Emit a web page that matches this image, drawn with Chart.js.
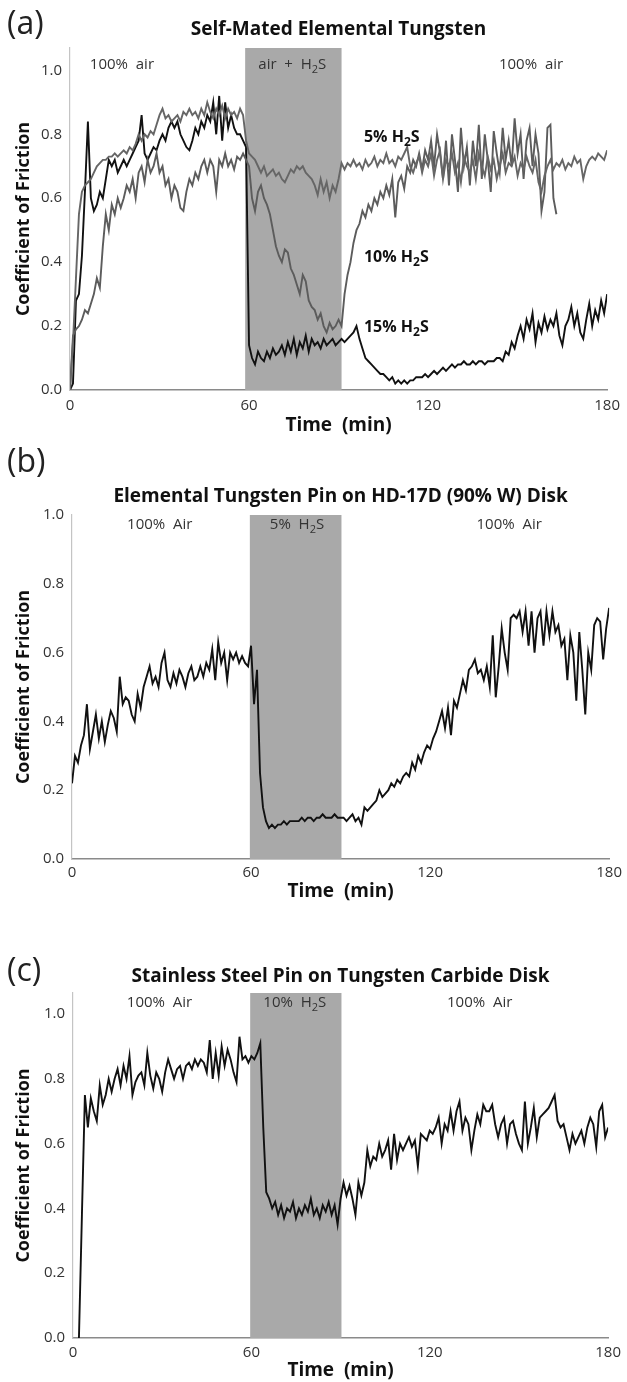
<!DOCTYPE html>
<html><head><meta charset="utf-8">
<script src="https://cdn.jsdelivr.net/npm/chart.js@4.4.0/dist/chart.umd.min.js"></script>
<style>
html,body{margin:0;padding:0;background:#fff;}
body{width:627px;height:1382px;position:relative;overflow:hidden;}
.wrap{position:absolute;left:0;width:627px;}
</style></head><body>
<div class="wrap" style="top:0;height:440px"><canvas id="ca"></canvas></div>
<div class="wrap" style="top:445px;height:460px"><canvas id="cb"></canvas></div>
<div class="wrap" style="top:955px;height:427px"><canvas id="cc"></canvas></div>
<script>
// ---------- data ----------
const xTicks = [0, 60, 120, 180];
const yTicks = [0.0, 0.2, 0.4, 0.6, 0.8, 1.0];

// Panel (a): Self-Mated Elemental Tungsten, 1-min samples
const aTime = Array.from({length:181}, (_, i) => i);
const aTime10 = Array.from({length:164}, (_, i) => i);
const a15 = [0,0.02,0.28,0.3,0.42,0.62,0.84,0.6,0.56,0.58,0.62,0.6,0.66,0.72,0.7,0.72,0.68,0.7,0.72,0.7,
0.72,0.74,0.76,0.78,0.86,0.74,0.72,0.74,0.76,0.75,0.78,0.8,0.78,0.82,0.84,0.82,0.84,0.8,0.78,0.76,
0.75,0.78,0.82,0.8,0.84,0.82,0.86,0.84,0.9,0.8,0.92,0.78,0.9,0.82,0.86,0.82,0.8,0.8,0.78,0.76,
0.14,0.1,0.08,0.12,0.1,0.09,0.12,0.1,0.13,0.11,0.12,0.14,0.11,0.15,0.12,0.16,0.11,0.15,0.13,0.17,
0.12,0.16,0.14,0.15,0.13,0.16,0.14,0.15,0.16,0.14,0.15,0.16,0.15,0.16,0.17,0.18,0.2,0.16,0.13,0.1,
0.09,0.08,0.07,0.06,0.05,0.05,0.04,0.03,0.04,0.02,0.03,0.02,0.03,0.02,0.03,0.03,0.04,0.04,0.04,0.05,
0.04,0.05,0.06,0.05,0.06,0.07,0.06,0.07,0.08,0.07,0.08,0.08,0.09,0.08,0.08,0.09,0.08,0.09,0.09,0.08,
0.09,0.09,0.09,0.1,0.1,0.09,0.12,0.11,0.15,0.13,0.17,0.2,0.16,0.22,0.19,0.24,0.15,0.21,0.18,0.23,
0.19,0.22,0.2,0.24,0.17,0.14,0.2,0.22,0.26,0.2,0.24,0.18,0.16,0.22,0.27,0.2,0.25,0.22,0.28,0.24,0.3];
const a5 = [0,0.15,0.35,0.55,0.62,0.64,0.65,0.66,0.68,0.7,0.71,0.72,0.72,0.73,0.73,0.74,0.73,0.74,0.75,0.74,
0.76,0.75,0.77,0.8,0.78,0.8,0.79,0.81,0.8,0.83,0.86,0.88,0.85,0.86,0.84,0.85,0.86,0.84,0.87,0.86,
0.88,0.86,0.87,0.85,0.88,0.86,0.9,0.87,0.85,0.88,0.86,0.89,0.85,0.88,0.86,0.87,0.85,0.88,0.86,0.78,
0.74,0.73,0.72,0.7,0.68,0.7,0.67,0.68,0.69,0.67,0.68,0.66,0.65,0.67,0.69,0.68,0.7,0.69,0.7,0.68,
0.67,0.66,0.64,0.61,0.66,0.62,0.65,0.6,0.64,0.62,0.66,0.71,0.69,0.71,0.7,0.72,0.7,0.71,0.69,0.72,
0.7,0.71,0.73,0.7,0.72,0.71,0.74,0.71,0.72,0.7,0.73,0.72,0.74,0.76,0.7,0.68,0.71,0.73,0.68,0.72,
0.7,0.74,0.67,0.72,0.75,0.66,0.72,0.7,0.74,0.68,0.71,0.65,0.73,0.7,0.68,0.72,0.66,0.74,0.7,0.67,
0.73,0.69,0.72,0.66,0.7,0.74,0.68,0.71,0.7,0.73,0.67,0.71,0.69,0.73,0.7,0.68,0.72,0.65,0.62,0.67,
0.7,0.72,0.69,0.71,0.7,0.72,0.69,0.71,0.7,0.73,0.71,0.72,0.66,0.7,0.72,0.73,0.72,0.74,0.73,0.72,0.75];
const a10 = [0,0.17,0.19,0.2,0.22,0.25,0.24,0.27,0.3,0.35,0.32,0.45,0.55,0.5,0.58,0.55,0.6,0.57,0.6,0.64,
0.62,0.66,0.6,0.68,0.7,0.65,0.72,0.68,0.7,0.74,0.68,0.7,0.64,0.66,0.6,0.64,0.62,0.57,0.56,0.62,
0.66,0.64,0.68,0.66,0.7,0.72,0.68,0.72,0.7,0.62,0.72,0.7,0.74,0.7,0.72,0.69,0.73,0.72,0.74,0.72,
0.7,0.6,0.56,0.62,0.64,0.6,0.58,0.55,0.5,0.45,0.42,0.4,0.44,0.43,0.38,0.36,0.33,0.3,0.36,0.34,
0.28,0.26,0.25,0.22,0.24,0.2,0.18,0.21,0.19,0.2,0.22,0.2,0.3,0.36,0.4,0.46,0.5,0.52,0.56,0.54,
0.58,0.56,0.6,0.58,0.62,0.6,0.64,0.61,0.66,0.54,0.65,0.67,0.63,0.7,0.68,0.72,0.7,0.74,0.69,0.75,
0.72,0.78,0.7,0.8,0.74,0.66,0.78,0.64,0.8,0.72,0.62,0.82,0.7,0.76,0.64,0.78,0.7,0.83,0.66,0.8,
0.72,0.62,0.81,0.74,0.68,0.82,0.72,0.78,0.7,0.85,0.74,0.8,0.66,0.78,0.82,0.7,0.8,0.74,0.56,0.62,
0.82,0.83,0.6,0.55];

// Panel (b): Elemental Tungsten Pin on HD-17D disk
const bTime = Array.from({length:181}, (_, i) => i);
const bCof = [0.22,0.3,0.28,0.33,0.36,0.45,0.32,0.37,0.42,0.35,0.4,0.34,0.39,0.43,0.41,0.37,0.53,0.45,0.47,0.46,
0.42,0.4,0.48,0.44,0.5,0.53,0.56,0.51,0.53,0.5,0.57,0.6,0.52,0.5,0.54,0.51,0.55,0.53,0.5,0.54,
0.56,0.52,0.53,0.56,0.53,0.57,0.55,0.61,0.52,0.63,0.57,0.6,0.52,0.6,0.58,0.6,0.57,0.59,0.57,0.56,
0.62,0.45,0.55,0.25,0.15,0.11,0.09,0.1,0.09,0.1,0.1,0.11,0.1,0.11,0.11,0.11,0.11,0.12,0.11,0.12,
0.12,0.11,0.12,0.12,0.13,0.12,0.12,0.12,0.13,0.12,0.12,0.12,0.11,0.12,0.13,0.11,0.12,0.1,0.15,0.14,
0.15,0.16,0.17,0.2,0.18,0.19,0.2,0.22,0.21,0.23,0.22,0.24,0.25,0.24,0.28,0.26,0.3,0.28,0.31,0.33,
0.32,0.35,0.37,0.4,0.43,0.38,0.44,0.36,0.46,0.44,0.48,0.52,0.49,0.55,0.56,0.58,0.54,0.55,0.52,0.56,
0.5,0.65,0.47,0.56,0.67,0.6,0.55,0.7,0.71,0.7,0.72,0.66,0.72,0.62,0.72,0.6,0.7,0.72,0.62,0.72,
0.65,0.72,0.66,0.68,0.62,0.64,0.52,0.65,0.6,0.46,0.66,0.55,0.42,0.6,0.55,0.68,0.7,0.69,0.58,0.67,0.73];

// Panel (c): Stainless Steel Pin on Tungsten Carbide disk
const cTime = Array.from({length:179}, (_, i) => i + 2);
const cCof = [0,0.38,0.75,0.65,0.74,0.7,0.67,0.78,0.72,0.75,0.8,0.76,0.8,0.83,0.78,0.84,0.8,0.87,
0.75,0.79,0.81,0.82,0.78,0.88,0.81,0.77,0.82,0.8,0.76,0.82,0.86,0.83,0.8,0.83,0.84,0.8,0.84,0.85,
0.83,0.86,0.84,0.86,0.85,0.82,0.92,0.8,0.88,0.81,0.9,0.84,0.89,0.86,0.82,0.79,0.93,0.86,0.87,0.85,
0.87,0.86,0.88,0.91,0.65,0.45,0.43,0.4,0.42,0.38,0.41,0.37,0.4,0.39,0.42,0.37,0.4,0.38,0.41,0.39,
0.43,0.38,0.4,0.37,0.41,0.39,0.42,0.38,0.41,0.35,0.43,0.48,0.44,0.47,0.43,0.38,0.48,0.44,0.48,0.58,
0.53,0.56,0.55,0.6,0.56,0.58,0.61,0.52,0.63,0.55,0.6,0.58,0.6,0.62,0.59,0.61,0.53,0.63,0.62,0.61,
0.64,0.63,0.65,0.68,0.6,0.66,0.64,0.7,0.64,0.7,0.73,0.64,0.68,0.66,0.58,0.64,0.69,0.66,0.72,0.7,
0.7,0.72,0.66,0.62,0.66,0.68,0.6,0.66,0.67,0.63,0.6,0.58,0.73,0.6,0.65,0.71,0.62,0.68,0.69,0.7,
0.71,0.73,0.75,0.67,0.65,0.66,0.62,0.58,0.63,0.6,0.62,0.64,0.6,0.65,0.68,0.66,0.59,0.7,0.72,0.62,0.65];

// ---------- drawing ----------
const FONT = '"Open Sans", "DejaVu Sans", sans-serif';
const BAND = '#a9a9a9';

function drawParts(ctx, parts, x, y, size, bold, align) {
  const base = (bold ? 'bold ' : '') + size + 'px ' + FONT;
  const sub = (bold ? 'bold ' : '') + Math.round(size * 0.75) + 'px ' + FONT;
  let w = 0;
  parts.forEach(p => { ctx.font = p.sub ? sub : base; w += ctx.measureText(p.t).width; });
  let cx = align === 'center' ? x - w / 2 : x;
  ctx.textBaseline = 'middle';
  ctx.textAlign = 'left';
  parts.forEach(p => {
    ctx.font = p.sub ? sub : base;
    ctx.fillText(p.t, cx, p.sub ? y + size * 0.3 : y);
    cx += ctx.measureText(p.t).width;
  });
}

function makePanel(id, o) {
  const deco = {
    id: 'deco' + id,
    beforeDatasetsDraw(chart) {
      const {ctx, chartArea, scales} = chart;
      const x0 = scales.x.getPixelForValue(o.band[0]);
      const x1 = scales.x.getPixelForValue(o.band[1]);
      ctx.save();
      ctx.fillStyle = BAND;
      ctx.fillRect(x0, chartArea.top, x1 - x0, chartArea.bottom - chartArea.top);
      ctx.restore();
    },
    afterDraw(chart) {
      const {ctx, chartArea, scales} = chart;
      ctx.save();
      ctx.fillStyle = '#222';
      ctx.font = '32px ' + FONT;
      ctx.textBaseline = 'middle';
      ctx.textAlign = 'left';
      ctx.fillText(o.letter, 7, o.letterY);
      ctx.fillStyle = '#333';
      o.bandLabels.forEach(b => {
        drawParts(ctx, b.parts, scales.x.getPixelForValue(b.t), chartArea.top + o.bandLabelDy, 15, false, 'center');
      });
      ctx.fillStyle = '#111';
      (o.seriesLabels || []).forEach(s => {
        drawParts(ctx, s.parts, scales.x.getPixelForValue(s.t), scales.y.getPixelForValue(s.v), 16, true, 'left');
      });
      ctx.restore();
    }
  };
  return new Chart(document.getElementById(id), {
    type: 'line',
    data: { datasets: o.datasets.map(d => ({
      data: d.time.map((t, i) => ({x: t, y: d.values[i]})),
      borderColor: d.color, borderWidth: d.width || 1.9,
      pointRadius: 0, tension: 0, fill: false, spanGaps: false
    })) },
    options: {
      responsive: true, maintainAspectRatio: false, animation: false,
      layout: { padding: { left: 0, right: o.padRight, top: 0, bottom: 0 } },
      plugins: {
        legend: { display: false }, tooltip: { enabled: false },
        title: { display: true, fullSize: false, text: o.title, color: '#111',
          font: { family: FONT, size: 19, weight: 'bold' },
          padding: { top: o.titleTop, bottom: o.titleBottom } }
      },
      scales: {
        x: {
          type: 'linear', min: 0, max: 180,
          afterBuildTicks: s => { s.ticks = xTicks.map(v => ({value: v})); },
          afterFit: s => { s.height = o.xHeight; },
          ticks: { padding: o.xTickPad, maxRotation: 0, autoSkip: false, color: '#333',
            font: { family: FONT, size: 15 }, callback: v => String(v) },
          grid: { display: false, drawTicks: false },
          border: { color: '#8a8a8a', width: 1.5 },
          title: { display: true, text: 'Time  (min)', color: '#111',
            font: { family: FONT, size: 19, weight: 'bold' },
            padding: { top: 0, bottom: o.xTitlePad } }
        },
        y: {
          min: 0, max: o.yMax,
          afterBuildTicks: s => { s.ticks = yTicks.map(v => ({value: v})); },
          afterFit: s => { s.width = o.yWidth; },
          ticks: { padding: 8, color: '#333', font: { family: FONT, size: 15 },
            callback: v => Number(v).toFixed(1) },
          grid: { display: false, drawTicks: false },
          border: { color: '#c4c4c4', width: 1.2 },
          title: { display: true, text: 'Coefficient of Friction', color: '#111',
            font: { family: FONT, size: 18, weight: 'bold' },
            padding: { top: 13, bottom: 0 } }
        }
      }
    },
    plugins: [deco]
  });
}

const H2S = (pre) => [{t: pre + 'H'}, {t: '2', sub: true}, {t: 'S'}];

makePanel('ca', {
  letter: '(a)', letterY: 25, title: 'Self-Mated Elemental Tungsten',
  titleTop: 18.6, titleBottom: 6.6, yMax: 1.07, yWidth: 70, padRight: 19,
  xHeight: 50, xTickPad: 7, xTitlePad: 2.6, band: [58.7, 91],
  bandLabelDy: 17,
  bandLabels: [ {t: 17.4, parts: [{t: '100%  air'}]}, {t: 74.5, parts: H2S('air  +  ')}, {t: 154.5, parts: [{t: '100%  air'}]} ],
  seriesLabels: [ {t: 98.5, v: 0.79, parts: H2S('5% ')}, {t: 98.5, v: 0.415, parts: H2S('10% ')}, {t: 98.5, v: 0.195, parts: H2S('15% ')} ],
  datasets: [
    {time: aTime, values: a5, color: '#666666'},
    {time: aTime10, values: a10, color: '#5c5c5c'},
    {time: aTime, values: a15, color: '#111111'}
  ]
});

makePanel('cb', {
  letter: '(b)', letterY: 18, title: 'Elemental Tungsten Pin on HD-17D (90% W) Disk',
  titleTop: 40.6, titleBottom: 6.6, yMax: 1.0, yWidth: 72, padRight: 17,
  xHeight: 46, xTickPad: 5, xTitlePad: 1.6, band: [59.6, 90.3],
  bandLabelDy: 10,
  bandLabels: [ {t: 29.4, parts: [{t: '100%  Air'}]}, {t: 75.4, parts: H2S('5%  ')}, {t: 146.5, parts: [{t: '100%  Air'}]} ],
  datasets: [ {time: bTime, values: bCof, color: '#111111'} ]
});

makePanel('cc', {
  letter: '(c)', letterY: 17, title: 'Stainless Steel Pin on Tungsten Carbide Disk',
  titleTop: 10.6, titleBottom: 4.6, yMax: 1.065, yWidth: 73, padRight: 16,
  xHeight: 44, xTickPad: 6, xTitlePad: 0, band: [59.6, 90.3],
  bandLabelDy: 10,
  bandLabels: [ {t: 29.1, parts: [{t: '100%  Air'}]}, {t: 74.6, parts: H2S('10%  ')}, {t: 136.8, parts: [{t: '100%  Air'}]} ],
  datasets: [ {time: cTime, values: cCof, color: '#111111'} ]
});
</script>
</body></html>
